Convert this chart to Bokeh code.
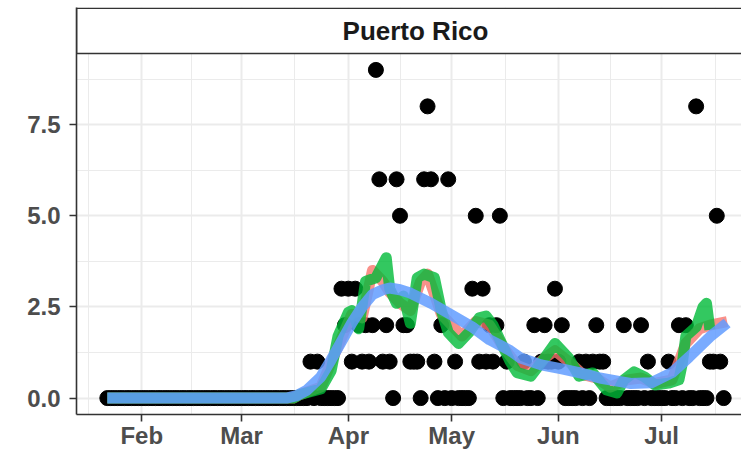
import pandas as pd
from bokeh.plotting import figure
from bokeh.models import (Range1d, FixedTicker, NumeralTickFormatter,
                          DatetimeTickFormatter, ColumnDataSource)
from bokeh.embed import file_html
from bokeh.resources import INLINE
from bokeh.core.properties import value

# ---------------- data ----------------
first_day = "2020-01-22"
deaths = [
    0, 0, 0, 0, 0, 0, 0, 0, 0, 0,
    0, 0, 0, 0, 0, 0, 0, 0, 0, 0,
    0, 0, 0, 0, 0, 0, 0, 0, 0, 0,
    0, 0, 0, 0, 0, 0, 0, 0, 0, 0,
    0, 0, 0, 0, 0, 0, 0, 0, 0, 0,
    0, 0, 0, 0, 0, 0, 0, 0, 0,
    1, 0, 1, 0, 0, 0, 0, 0, 0,
    3, 2, 3, 1, 3, 2, 1, 2, 1, 2,
    9, 6, 1, 2, 1, 0, 6, 5, 2, 2,
    1, 1, 1, 0, 6, 8, 6, 1, 0, 2,
    0, 6, 0, 1, 0, 0, 0, 0, 3, 5,
    1, 3, 1, 2, 1, 2, 5, 0, 1, 0,
    0, 0, 0, 1, 0, 0, 2, 0, 1, 2,
    1, 1, 3, 1, 2, 0, 0, 0, 0, 1,
    0, 1, 0, 1, 2, 1, 1, 0, 0, 0,
    0, 0, 2, 0, 0, 0, 0, 2, 0, 1,
    0, 0, 0, 0, 0, 1, 0, 0, 2, 0,
    2, 0, 0, 8, 0, 0, 0, 1, 1, 5,
    1, 0,
]

red_dates = ["2020-01-22", "2020-03-16", "2020-03-18", "2020-03-24", "2020-03-28",
             "2020-04-02", "2020-04-05", "2020-04-08", "2020-04-11", "2020-04-13",
             "2020-04-16", "2020-04-19", "2020-04-22", "2020-04-24", "2020-04-28",
             "2020-05-01", "2020-05-04", "2020-05-08", "2020-05-12", "2020-05-16",
             "2020-05-20", "2020-05-24", "2020-05-28", "2020-05-31", "2020-06-04",
             "2020-06-08", "2020-06-12", "2020-06-16", "2020-06-21", "2020-06-25",
             "2020-06-29", "2020-07-04", "2020-07-08", "2020-07-12", "2020-07-15",
             "2020-07-20"]
red_vals = [0, 0, 0.1, 0.3, 1.2,
            2.3, 2.2, 3.5, 3.2, 2.9,
            2.6, 2.4, 3.2, 3.4, 2.3,
            2.0, 1.7, 2.1, 2.0, 1.4,
            0.9, 0.75, 1.1, 1.3, 1.0,
            0.65, 0.55, 0.3, 0.5, 0.55,
            0.4, 0.5, 1.5, 1.9, 2.0,
            2.1]

green_dates = ["2020-01-22", "2020-03-16", "2020-03-18", "2020-03-24", "2020-03-27",
               "2020-03-29", "2020-04-01", "2020-04-02", "2020-04-04", "2020-04-06",
               "2020-04-09", "2020-04-12", "2020-04-13", "2020-04-15", "2020-04-17",
               "2020-04-19", "2020-04-21", "2020-04-23", "2020-04-26", "2020-04-28",
               "2020-04-30", "2020-05-03", "2020-05-06", "2020-05-09", "2020-05-11",
               "2020-05-13", "2020-05-16", "2020-05-18", "2020-05-20", "2020-05-24",
               "2020-05-28", "2020-05-31", "2020-06-04", "2020-06-07", "2020-06-11",
               "2020-06-15", "2020-06-18", "2020-06-20", "2020-06-23", "2020-06-26",
               "2020-06-29", "2020-07-03", "2020-07-06", "2020-07-07", "2020-07-08",
               "2020-07-11", "2020-07-13", "2020-07-14", "2020-07-15"]
green_vals = [0, 0, 0.1, 0.25, 0.75,
              1.7, 2.35, 2.4, 1.9, 3.2,
              3.3, 3.85, 3.0, 2.6, 2.8,
              2.05, 3.3, 3.4, 3.3, 2.4,
              1.8, 1.5, 1.8, 2.2, 2.25,
              2.0, 1.4, 1.0, 0.7, 0.6,
              1.1, 1.5, 1.1, 0.6, 0.69,
              0.22, 0.14, 0.5, 0.72, 0.58,
              0.36, 0.41, 0.5, 0.96, 1.7,
              1.95, 2.5, 2.6, 1.87]

blue_dates = ["2020-01-22", "2020-03-14", "2020-03-17", "2020-03-20", "2020-03-24",
              "2020-03-27", "2020-03-30", "2020-04-02", "2020-04-05", "2020-04-08",
              "2020-04-11", "2020-04-13", "2020-04-16", "2020-04-19", "2020-04-25",
              "2020-05-01", "2020-05-07", "2020-05-12", "2020-05-15", "2020-05-18",
              "2020-05-21", "2020-05-27", "2020-06-02", "2020-06-07", "2020-06-13",
              "2020-06-19", "2020-06-22", "2020-06-28", "2020-07-04", "2020-07-09",
              "2020-07-15", "2020-07-20"]
blue_vals = [0, 0, 0.07, 0.22, 0.58,
             1.05, 1.55, 2.06, 2.5, 2.84,
             2.97, 3.02, 2.97, 2.88, 2.6,
             2.28, 1.95, 1.6, 1.45, 1.3,
             1.1, 0.91, 0.8, 0.7, 0.55,
             0.45, 0.4, 0.42, 0.7, 1.13,
             1.68, 2.06]

y_ticks = [0, 2.5, 5.0, 7.5]
y_minor = [1.25, 3.75, 6.25, 8.75]
x_ticks = ["2020-02-01", "2020-03-01", "2020-04-01", "2020-05-01", "2020-06-01", "2020-07-01"]
x_minor = ["2020-01-16 12:00", "2020-02-15 12:00", "2020-03-16 12:00", "2020-04-16 00:00",
           "2020-05-16 12:00", "2020-06-16 00:00", "2020-07-16 12:00"]
strip_label = "Puerto Rico"

# ---------------- helpers ----------------
def ms(s):
    return pd.Timestamp(s).value / 1e6

dates = pd.date_range(first_day, periods=len(deaths), freq="D")

# ggplot-like expansion of the scales
x0, x1 = ms(dates[0]), ms(dates[-1])
span = x1 - x0
x_start = x0 - 0.05 * span
x_full_end = x1 + 0.05 * span
x_end = x_start + (x_full_end - x_start) * 665.0 / 678.0   # panel is cropped at right

y_lo, y_hi = -0.45, 9.45
panel_px = 361.0
frame_px = 407.0
y_top = y_lo + (y_hi - y_lo) * frame_px / panel_px

FONT = "Liberation Sans"

p = figure(width=741, height=451, output_backend="svg", toolbar_location=None,
           x_axis_type="datetime",
           x_range=Range1d(x_start, x_end), y_range=Range1d(y_lo, y_top),
           min_border_left=76, min_border_right=0, min_border_top=7,
           min_border_bottom=37)
p.outline_line_color = None
p.background_fill_color = "white"
p.border_fill_color = "white"

p.xaxis.ticker = FixedTicker(ticks=[ms(t) for t in x_ticks],
                             minor_ticks=[ms(t) for t in x_minor])
p.yaxis.ticker = FixedTicker(ticks=y_ticks, minor_ticks=y_minor)
for g in (p.xgrid, p.ygrid):
    g.grid_line_color = "#EBEBEB"
    g.grid_line_width = 2
    g.minor_grid_line_color = "#EBEBEB"
    g.minor_grid_line_width = 1

p.yaxis.formatter = NumeralTickFormatter(format="0.0")
p.xaxis.formatter = DatetimeTickFormatter(days="%b", months="%b", years="%b")

for ax in (p.xaxis, p.yaxis):
    ax.axis_line_color = "#333333"
    ax.axis_line_width = 1.6
    ax.major_tick_line_color = "#333333"
    ax.major_tick_line_width = 1.6
    ax.major_tick_out = 7
    ax.major_tick_in = 0
    ax.minor_tick_line_color = None
    ax.major_label_text_font = FONT
    ax.major_label_text_font_style = "bold"
    ax.major_label_text_font_size = "24px"
    ax.major_label_text_color = "#4D4D4D"
p.yaxis.major_label_standoff = 9
p.xaxis.major_label_standoff = 0

# data marks
src = ColumnDataSource(dict(date=dates, deaths=deaths))
p.scatter("date", "deaths", source=src, size=15, color="black")

red = ColumnDataSource(dict(date=pd.to_datetime(red_dates), v=red_vals))
green = ColumnDataSource(dict(date=pd.to_datetime(green_dates), v=green_vals))
blue = ColumnDataSource(dict(date=pd.to_datetime(blue_dates), v=blue_vals))
p.line("date", "v", source=red, line_width=11, color="#F8766D", alpha=0.8,
       line_join="round")
p.line("date", "v", source=green, line_width=11, color="#00BA38", alpha=0.8,
       line_join="round")
p.line("date", "v", source=blue, line_width=11, color="#619CFF", alpha=0.85,
       line_join="round")

# facet strip
px_per_unit = panel_px / (y_hi - y_lo)
p.quad(left=[x_start], right=[x_full_end], bottom=[y_hi],
       top=[y_top - 0.8 / px_per_unit],
       fill_color="white", line_color="#333333", line_width=1.6)
p.text(x=[(x_start + x_full_end) / 2], y=[(y_hi + y_top) / 2], text=[strip_label],
       text_font=value(FONT), text_font_style="bold", text_font_size="26px",
       text_color="#1A1A1A", text_align="center", text_baseline="middle")

open("out.html", "w").write(file_html(p, INLINE))
